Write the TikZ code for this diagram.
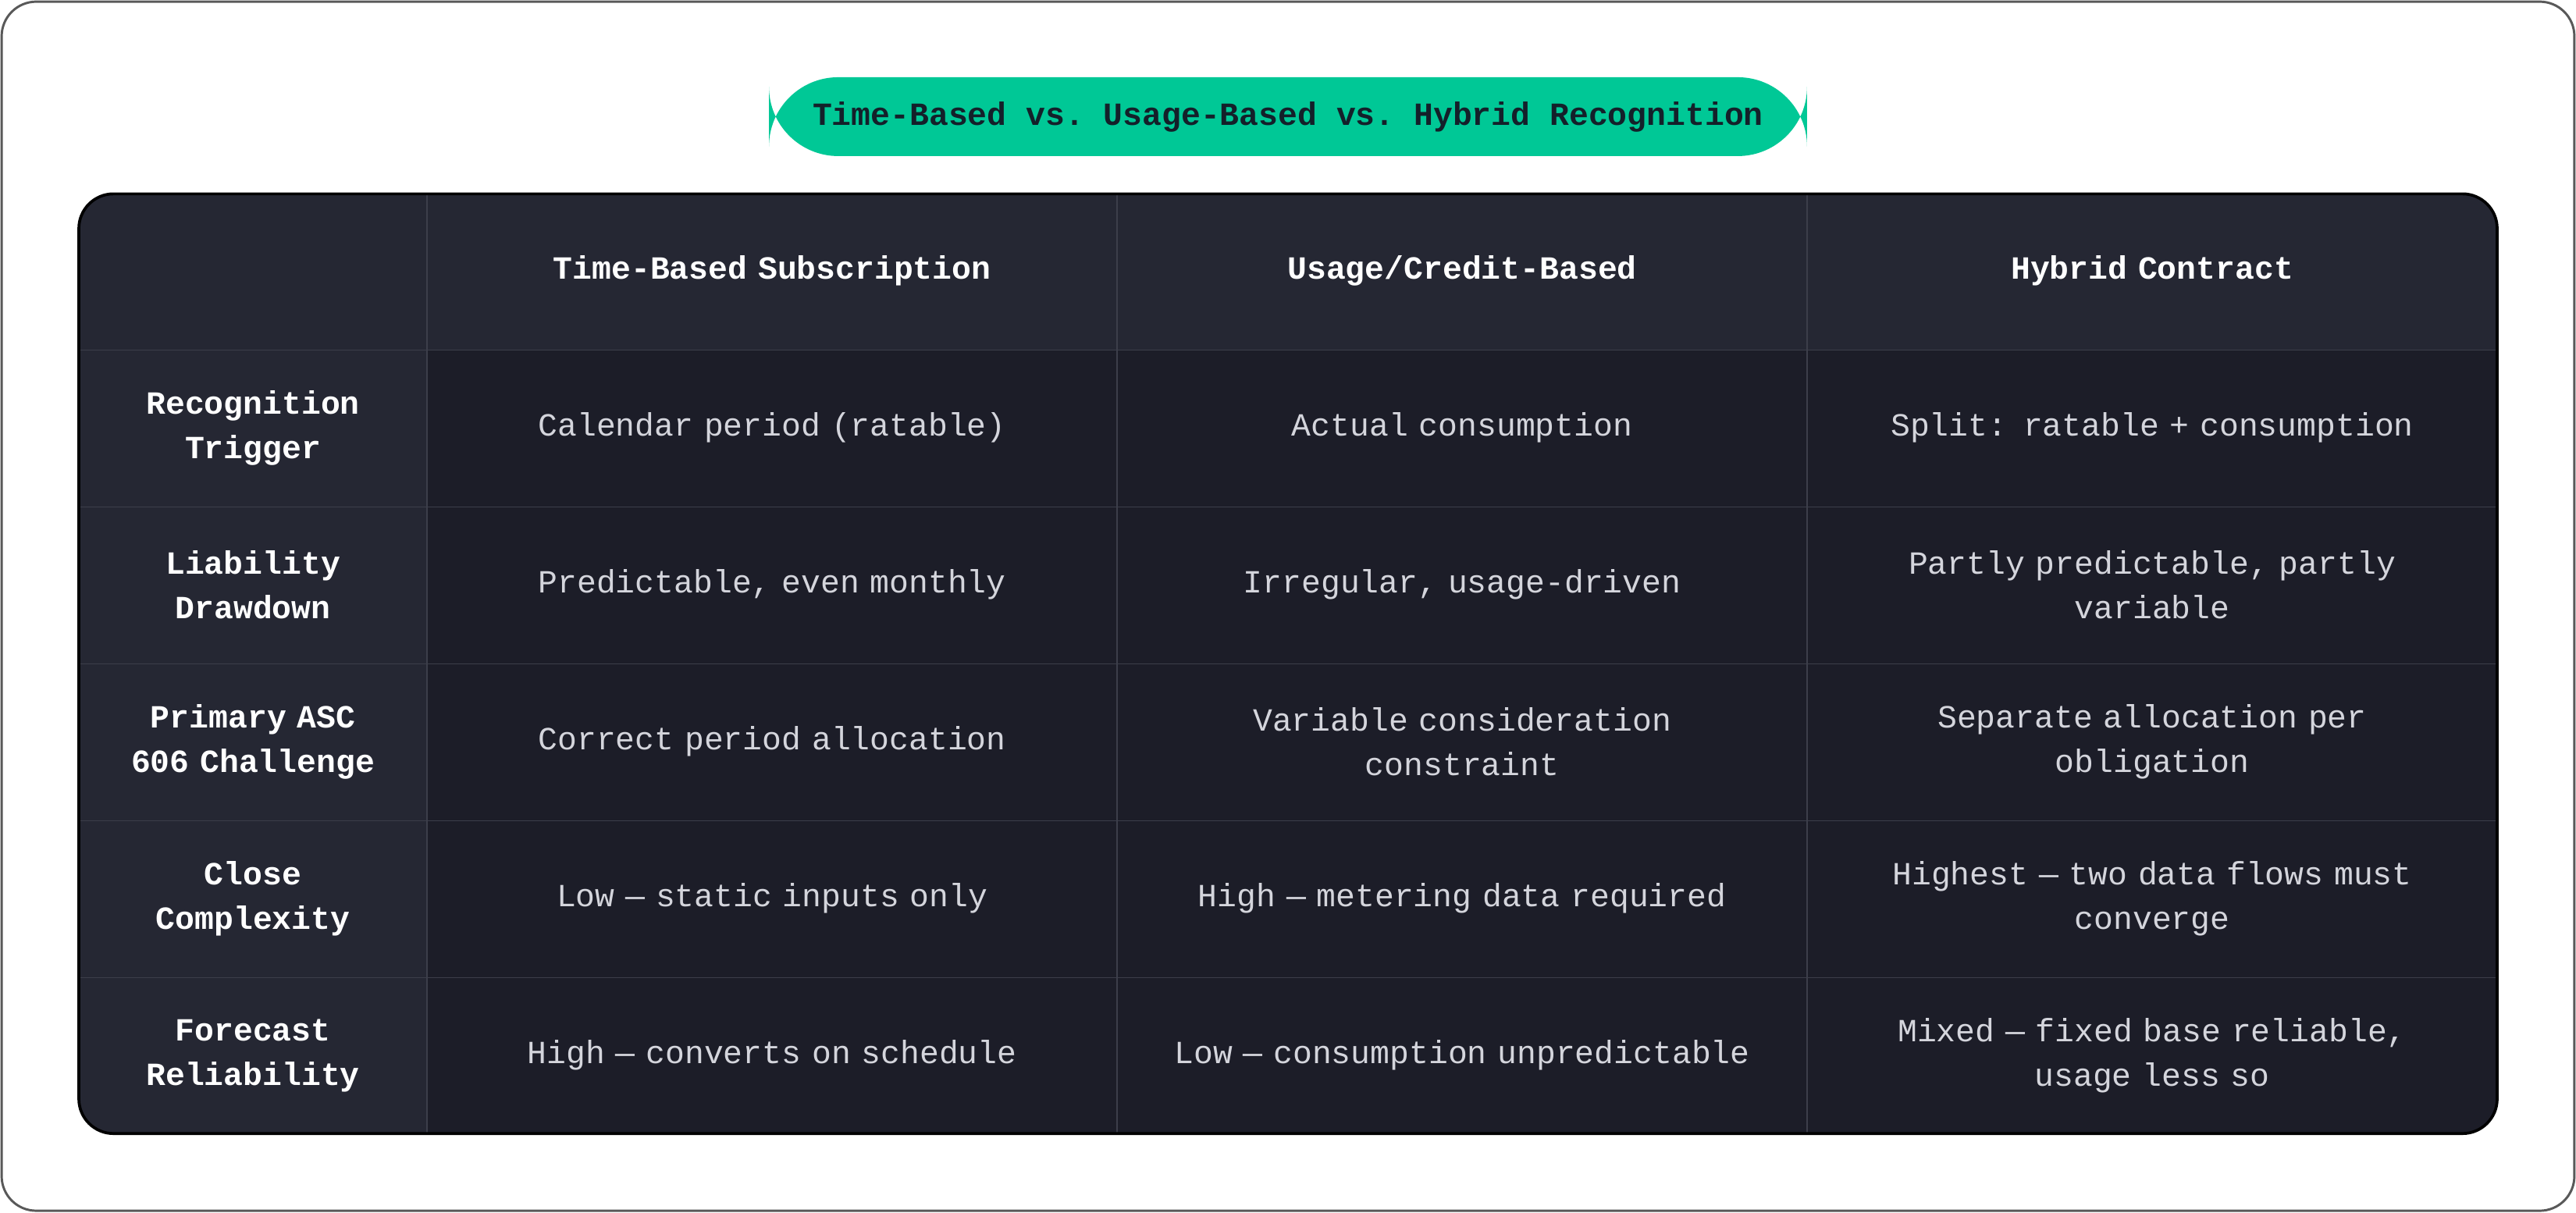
\documentclass[tikz,border=0pt]{standalone}
\usepackage{fontspec}
\setmonofont{Liberation Mono}
\usepackage{tikz}
\definecolor{pillgreen}{HTML}{00C896}
\definecolor{tabbg}{HTML}{1C1D28}
\definecolor{headbg}{HTML}{252733}
\definecolor{gridline}{HTML}{3C3E4A}
\definecolor{bodytext}{HTML}{D4D5DC}
\definecolor{titletext}{HTML}{14202A}
\begin{document}
\begin{tikzpicture}[
            x=0.02cm, y=-0.02cm,
            cell/.style={text=bodytext,font=\ttfamily\fontsize{11.2}{15.5}\selectfont,align=center,text width=7.6cm},
            head/.style={cell,text=white,font=\ttfamily\bfseries\fontsize{11.2}{15.5}\selectfont},
            side/.style={head,text width=3.8cm},
            ]
            \useasboundingbox (0,0) rectangle (1568,738);
            \draw[gray!70!black, line width=0.8pt, rounded corners=12] (1,1) rectangle (1567,737);

            % title
            \node[fill=pillgreen, rounded corners=24, minimum width=12.64cm, minimum height=0.96cm,
                  text=titletext, font=\ttfamily\bfseries\fontsize{11.2}{14}\selectfont] (title) at (784,71)
                  {Time-Based vs. Usage-Based vs. Hybrid Recognition};

            % table body
            \begin{scope}
            \clip[rounded corners=12] (48,118) rectangle (1520,690);
            \fill[tabbg] (48,118) rectangle (1520,690);
            \fill[headbg] (48,118) rectangle (1520,213);
            \fill[headbg] (48,118) rectangle (260,690);
            \foreach \x in {260,680,1100} \draw[gridline] (\x,118) -- (\x,690);
            \foreach \y in {213,308.5,404,499.5,595} \draw[gridline] (48,\y) -- (1520,\y);
            \end{scope}
            \draw[black, line width=1pt, rounded corners=12] (48,118) rectangle (1520,690);

            % header row
            \node[head] (h1) at (470,165) {Time-Based Subscription};
            \node[head] (h2) at (890,165) {Usage/Credit-Based};
            \node[head] (h3) at (1310,165) {Hybrid Contract};

            % rows
            \foreach \y/\a/\b/\c/\d [count=\i] in {
                260.5/{Recognition\\Trigger}/{Calendar period (ratable)}/{Actual consumption}/{Split: ratable + consumption},
                356/{Liability\\Drawdown}/{Predictable, even monthly}/{Irregular, usage-driven}/{Partly predictable, partly\\variable},
                451.5/{Primary ASC\\606 Challenge}/{Correct period allocation}/{Variable consideration\\constraint}/{Separate allocation per\\obligation},
                547/{Close\\Complexity}/{Low — static inputs only}/{High — metering data required}/{Highest — two data flows must\\converge},
                642.5/{Forecast\\Reliability}/{High — converts on schedule}/{Low — consumption unpredictable}/{Mixed — fixed base reliable,\\usage less so}}
            {
                \node[side] (r\i) at (154,\y) {\a};
                \node[cell] (r\i a) at (470,\y) {\b};
                \node[cell] (r\i b) at (890,\y) {\c};
                \node[cell] (r\i c) at (1310,\y) {\d};
            }
        \end{tikzpicture}
\end{document}
